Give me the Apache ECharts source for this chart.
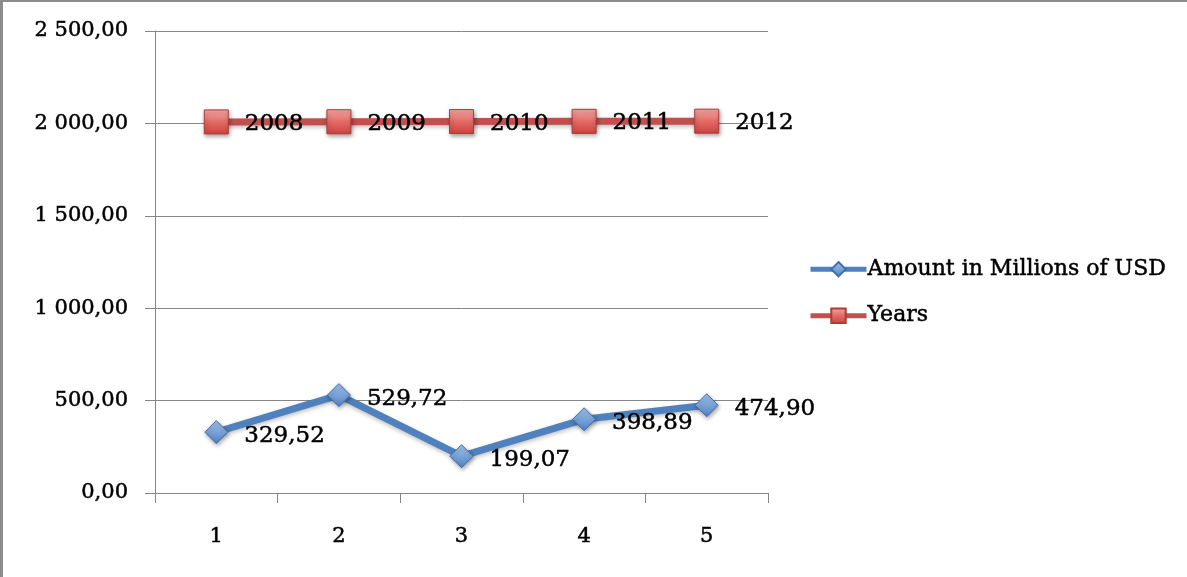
<!DOCTYPE html>
<html>
<head>
<meta charset="utf-8">
<script src="https://cdn.jsdelivr.net/npm/echarts@6/dist/echarts.min.js"></script>
<style>
  html, body { margin: 0; padding: 0; background: #fff; }
  #frame { position: absolute; left: 0; top: 0; width: 1187px; height: 577px; box-sizing: border-box;
           border-left: 3px solid #8c8c8c; border-top: 2px solid #8c8c8c; }
  #chart { position: absolute; left: 0; top: 0; width: 1187px; height: 577px; }
</style>
</head>
<body>
<div id="chart"></div>
<div id="frame"></div>
<script>
// Categories along the x axis
const categories = ['1', '2', '3', '4', '5'];
// Amount in Millions of USD per period
const amountValues = [329.52, 529.72, 199.07, 398.89, 474.90];
// Year that each period stands for
const yearValues = [2008, 2009, 2010, 2011, 2012];
// Y axis tick labels, from 0 upward in steps of 500
const yTickLabels = ['0,00', '500,00', '1 000,00', '1 500,00', '2 000,00', '2 500,00'];

const FONT = 'DejaVu Serif';
const AXIS_GREY = '#868686';
// a hairline outline in the text colour gives the glyphs a slightly heavier stroke
const INK = { color: '#000', textBorderColor: '#000', textBorderWidth: 0.5 };

function fmtComma(v) {
  return v.toFixed(2).replace('.', ',');
}

const blueDiamond = {
  type: 'linear', x: 0, y: 0, x2: 0, y2: 1,
  colorStops: [{ offset: 0, color: '#a3c2ea' }, { offset: 0.5, color: '#7aa3d9' }, { offset: 1, color: '#4f81c2' }]
};
const redSquare = {
  type: 'linear', x: 0, y: 0, x2: 0, y2: 1,
  colorStops: [{ offset: 0, color: '#f6aaa7' }, { offset: 0.5, color: '#e36a65' }, { offset: 1, color: '#cc433e' }]
};

const chart = echarts.init(document.getElementById('chart'), null, { renderer: 'canvas' });
chart.setOption({
  animation: false,
  backgroundColor: '#ffffff',
  textStyle: { fontFamily: FONT },
  grid: { left: 155, right: 419, top: 31, bottom: 84, containLabel: false },
  legend: {
    orient: 'vertical',
    left: 803,
    top: 253,
    itemWidth: 56,
    itemHeight: 18,
    itemGap: 24,
    lineStyle: { width: 5 },
    textStyle: Object.assign({ fontFamily: FONT, fontSize: 22, padding: [0, 0, 0, -4] }, INK),
    data: ['Amount in Millions of USD', 'Years']
  },
  xAxis: {
    type: 'category',
    data: categories,
    boundaryGap: true,
    axisLine: { lineStyle: { color: AXIS_GREY, width: 1 } },
    axisTick: { show: true, length: 10, alignWithLabel: false, lineStyle: { color: AXIS_GREY } },
    axisLabel: Object.assign({ fontFamily: FONT, fontSize: 21, margin: 33 }, INK),
    splitLine: { show: false }
  },
  yAxis: {
    type: 'value',
    min: 0,
    max: 2500,
    interval: 500,
    axisLine: { show: true, lineStyle: { color: AXIS_GREY, width: 1 } },
    axisTick: { show: true, length: 10, lineStyle: { color: AXIS_GREY } },
    axisLabel: Object.assign({
      fontFamily: FONT, fontSize: 21, margin: 27,
      formatter: function (v) { return yTickLabels[Math.round(v / 500)]; }
    }, INK),
    splitLine: { show: true, lineStyle: { color: AXIS_GREY, width: 1 } }
  },
  series: [
    {
      name: 'Amount in Millions of USD',
      type: 'line',
      data: amountValues,
      symbol: 'diamond',
      symbolSize: 23,
      color: '#4f81bd',
      lineStyle: { color: '#4f81bd', width: 7, shadowColor: 'rgba(0,0,0,0.25)', shadowBlur: 4, shadowOffsetY: 2 },
      itemStyle: { color: blueDiamond, borderColor: '#3f6fae', borderWidth: 1, shadowColor: 'rgba(0,0,0,0.35)', shadowBlur: 4, shadowOffsetX: 1, shadowOffsetY: 2 },
      label: Object.assign({
        show: true, position: 'right', distance: 16, offset: [0, 4],
        fontFamily: FONT, fontSize: 23,
        formatter: function (p) { return fmtComma(p.value); }
      }, INK),
      z: 3
    },
    {
      name: 'Years',
      type: 'line',
      data: yearValues,
      symbol: 'rect',
      symbolSize: 24,
      color: '#c0504d',
      lineStyle: { color: '#c0504d', width: 7, shadowColor: 'rgba(0,0,0,0.25)', shadowBlur: 4, shadowOffsetY: 2 },
      itemStyle: { color: redSquare, borderColor: '#b03a36', borderWidth: 1, shadowColor: 'rgba(0,0,0,0.35)', shadowBlur: 4, shadowOffsetX: 1, shadowOffsetY: 2 },
      label: Object.assign({
        show: true, position: 'right', distance: 16, offset: [0, 2],
        fontFamily: FONT, fontSize: 23,
        formatter: function (p) { return String(p.value); }
      }, INK),
      z: 3
    }
  ]
});
</script>
</body>
</html>
